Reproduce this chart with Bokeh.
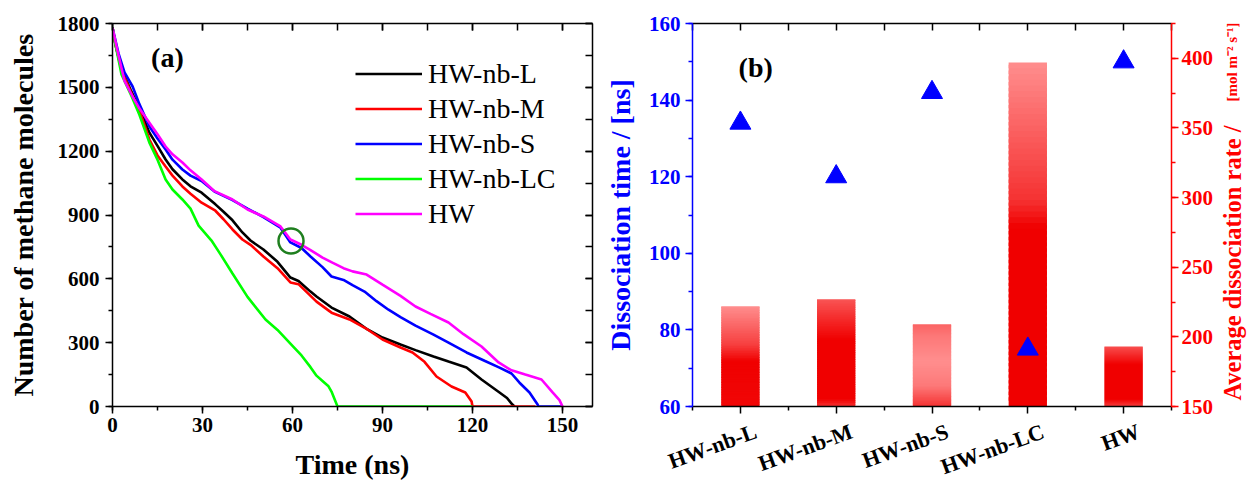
import math
from bokeh.plotting import figure
from bokeh.models import (Range1d, LinearAxis, SingleIntervalTicker, FixedTicker,
                          Legend, LegendItem, Label, CustomJSTickFormatter)
from bokeh.layouts import row
from bokeh.embed import file_html
from bokeh.resources import INLINE

# ---------------- data ----------------
series_names = ["HW-nb-L", "HW-nb-M", "HW-nb-S", "HW-nb-LC", "HW"]
series_colors = ["#000000", "#ff0000", "#0000ff", "#00ff00", "#ff00ff"]

t_L = [0, 1, 3, 6, 9, 12.3, 15, 17.7, 20, 23.3, 26, 29.7, 34.3, 37, 40, 43.3, 46, 50.3, 55, 59.3,
       62, 66, 68, 73, 79, 85, 90, 96, 101, 107, 112, 118, 123, 129, 131.5, 133.3, 134]
n_L = [1780, 1700, 1585, 1490, 1400, 1287, 1225, 1161, 1115, 1067, 1035, 1005, 950, 915, 875, 818,
       780, 738, 680, 606, 590, 540, 517, 465, 423, 362, 324, 291, 265, 235, 211, 183, 127, 66, 40, 9, 0]

t_M = [0, 1, 3, 6, 9, 12.3, 15, 17.7, 20, 23.3, 26, 29.7, 34.3, 37, 40, 43.3, 46, 50.3, 55, 59.3,
       62, 68, 73, 79, 85, 90, 96, 100, 104, 108, 113, 117.6, 119.7, 120, 141]
n_M = [1780, 1700, 1580, 1480, 1390, 1255, 1180, 1128, 1085, 1034, 1000, 958, 920, 880, 832, 785,
       760, 705, 650, 583, 575, 493, 441, 409, 362, 315, 277, 254, 210, 141, 94, 66, 23, 0, 0]

t_S = [0, 2, 4, 6.7, 9, 12.3, 15, 17.7, 20, 23.3, 26, 29.7, 34, 40, 45, 50.3, 56, 59.3, 63, 66,
       70, 73, 77, 80, 84, 88, 92, 96, 101, 107, 112, 118, 124, 129, 133, 135.6, 139, 141.7, 142, 150]
n_S = [1780, 1660, 1570, 1504, 1420, 1316, 1260, 1208, 1160, 1114, 1085, 1060, 1010, 970, 930, 890,
       840, 771, 745, 705, 655, 611, 595, 570, 540, 495, 455, 420, 380, 338, 300, 254, 215, 183, 155,
       113, 66, 9, 0, 0]

t_LC = [0, 1, 3, 6.4, 9, 12.3, 15, 17.7, 20, 23.3, 26, 28.7, 33, 36, 40, 45, 51, 55, 60, 63, 66,
        68, 70, 72, 73, 74, 75, 120]
n_LC = [1780, 1700, 1560, 1457, 1370, 1240, 1160, 1067, 1020, 973, 930, 850, 780, 715, 625, 515,
        409, 360, 285, 240, 185, 145, 120, 95, 70, 35, 0, 0]

t_HW = [0, 2, 4, 6.7, 9, 12.3, 15, 17.7, 20, 23.3, 26, 29.7, 34, 40, 45, 50.3, 56, 59.3, 63, 66,
        70, 73.3, 77, 80, 84.7, 90, 96, 101, 106, 112, 117, 123, 128.7, 133, 137.6, 143, 146.7, 149, 150]
n_HW = [1780, 1650, 1530, 1457, 1400, 1334, 1280, 1222, 1185, 1147, 1110, 1067, 1012, 973, 926, 893,
        846, 785, 760, 735, 700, 676, 650, 635, 620, 573, 520, 470, 435, 395, 340, 282, 207, 170,
        150, 127, 66, 30, 0]

series_t = [t_L, t_M, t_S, t_LC, t_HW]
series_n = [n_L, n_M, n_S, n_LC, n_HW]

categories = ["HW-nb-L", "HW-nb-M", "HW-nb-S", "HW-nb-LC", "HW"]
dissociation_time = [134, 120, 142, 75, 150]          # ns (triangles, left axis)
dissociation_rate = [222, 227, 209, 397, 193]         # mol m-2 s-1 (bars, right axis)

# ---------------- styles ----------------
FONT = "Liberation Serif"
TICK_FS = "21px"
TITLE_FS = "28px"

def style_axis(ax, color="#000000"):
    ax.axis_line_color = color
    ax.axis_line_width = 1.5
    ax.major_tick_line_color = color
    ax.minor_tick_line_color = color
    ax.major_tick_line_width = 1.5
    ax.minor_tick_line_width = 1.5
    ax.major_tick_in = 0
    ax.major_tick_out = 7
    ax.minor_tick_in = 0
    ax.minor_tick_out = 4
    ax.major_label_text_color = color
    ax.major_label_text_font = FONT
    ax.major_label_text_font_size = TICK_FS
    ax.major_label_text_font_style = "bold"
    ax.axis_label_text_font = FONT
    ax.axis_label_text_font_size = TITLE_FS
    ax.axis_label_text_font_style = "bold"
    ax.axis_label_text_color = color

def mirror_axis(ax, color="#000000"):
    style_axis(ax, color)
    ax.major_tick_in = 7
    ax.major_tick_out = 0
    ax.minor_tick_in = 7
    ax.minor_tick_out = 0
    ax.major_label_standoff = 0
    ax.formatter = CustomJSTickFormatter(code="return ''")

def bare(p):
    p.outline_line_color = None
    p.xgrid.visible = False
    p.ygrid.visible = False
    p.background_fill_color = "white"
    p.border_fill_color = "white"

# ---------------- panel (a) ----------------
pa = figure(frame_width=480, frame_height=383, min_border_left=112, min_border_right=6,
            min_border_top=23, min_border_bottom=62,
            x_range=Range1d(0, 160), y_range=Range1d(0, 1800),
            output_backend="svg", toolbar_location=None, align="start")
bare(pa)

pa.xaxis.ticker = SingleIntervalTicker(interval=30, num_minor_ticks=2)
pa.yaxis.ticker = SingleIntervalTicker(interval=300, num_minor_ticks=2)
style_axis(pa.xaxis[0])
style_axis(pa.yaxis[0])
pa.xaxis.axis_label = "Time (ns)"
pa.yaxis.axis_label = "Number of methane molecules"
pa.xaxis.major_label_standoff = 4
pa.xaxis.axis_label_standoff = 14
pa.yaxis.major_label_standoff = 6
pa.yaxis.axis_label_standoff = 16

top_a = LinearAxis(ticker=SingleIntervalTicker(interval=30, num_minor_ticks=2))
mirror_axis(top_a)
pa.add_layout(top_a, "above")
right_a = LinearAxis(ticker=SingleIntervalTicker(interval=300, num_minor_ticks=2))
mirror_axis(right_a)
pa.add_layout(right_a, "right")

renderers = []
for name, col, ts, ns in zip(series_names, series_colors, series_t, series_n):
    r = pa.line(ts, ns, line_color=col, line_width=2.6)
    renderers.append(r)

pa.scatter([59.5], [778], marker="circle", size=25, fill_color=None,
           line_color="#1f7f1f", line_width=2.5)

legend = Legend(items=[LegendItem(label=n, renderers=[r]) for n, r in zip(series_names, renderers)],
                location=(243, 175), glyph_width=67, glyph_height=35, label_height=35,
                label_standoff=6, spacing=0, padding=0, margin=0,
                border_line_alpha=0, background_fill_alpha=0,
                label_text_font=FONT, label_text_font_size="28px", label_text_color="#000000")
pa.add_layout(legend)

pa.add_layout(Label(x=18.3, y=1640, text="(a)", text_font=FONT, text_font_size="28px",
                    text_font_style="bold", text_align="center", text_baseline="middle",
                    text_color="#000000"))

# ---------------- panel (b) ----------------
pb = figure(frame_width=479, frame_height=383, min_border_left=94, min_border_right=42,
            min_border_top=23, min_border_bottom=62,
            x_range=Range1d(0, len(categories)), y_range=Range1d(60, 160),
            output_backend="svg", toolbar_location=None, align="start")
pb.extra_y_ranges = {"rate": Range1d(150, 425)}
bare(pb)

xpos = [i + 0.5 for i in range(len(categories))]
minor_x = list(range(len(categories) + 1))

# tick marks of the category axis
pb.xaxis.ticker = FixedTicker(ticks=xpos, minor_ticks=minor_x)
style_axis(pb.xaxis[0])
pb.xaxis.formatter = CustomJSTickFormatter(code="return ''")
pb.xaxis.major_label_standoff = 0

# category names (slanted), on a tick-less axis just below
label_pos = [round(x + 0.16, 2) for x in xpos]
cat_axis = LinearAxis(ticker=FixedTicker(ticks=label_pos, minor_ticks=[]))
style_axis(cat_axis)
cat_axis.axis_line_color = None
cat_axis.major_tick_line_color = None
cat_axis.minor_tick_line_color = None
cat_axis.major_tick_out = 0
cat_axis.minor_tick_out = 0
cat_axis.major_label_overrides = {x: c for x, c in zip(label_pos, categories)}
cat_axis.major_label_text_font_size = "22px"
cat_axis.major_label_orientation = math.radians(20)
cat_axis.major_label_standoff = 17
pb.add_layout(cat_axis, "below")

pb.yaxis.ticker = SingleIntervalTicker(interval=20, num_minor_ticks=2)
style_axis(pb.yaxis[0], "#0000ff")
pb.yaxis.axis_label = "Dissociation time / [ns]"
pb.yaxis.major_label_standoff = 5
pb.yaxis.axis_label_standoff = 10

right_b = LinearAxis(y_range_name="rate", ticker=SingleIntervalTicker(interval=50, num_minor_ticks=2))
style_axis(right_b, "#ff0000")
right_b.major_label_standoff = 3
pb.add_layout(right_b, "right")

top_b = LinearAxis(ticker=FixedTicker(ticks=xpos, minor_ticks=minor_x))
mirror_axis(top_b)
pb.add_layout(top_b, "above")

# gradient bars (per-bar vertical colour profile: 0 = deep red, 1 = light red)
RED = (240, 0, 0)
LIGHT = (255, 142, 142)
profiles = [
    [(0.0, 0.05), (0.45, 0.0), (0.62, 0.45), (1.0, 1.0)],
    [(0.0, 0.35), (0.07, 0.0), (0.62, 0.0), (0.85, 0.35), (1.0, 0.6)],
    [(0.0, 0.35), (0.25, 0.85), (0.55, 1.0), (0.85, 0.85), (1.0, 0.7)],
    [(0.0, 0.0), (0.52, 0.0), (0.6, 0.35), (1.0, 1.0)],
    [(0.0, 0.45), (0.12, 0.0), (0.7, 0.0), (1.0, 0.55)],
]

def profile_mix(prof, f):
    for (f0, m0), (f1, m1) in zip(prof[:-1], prof[1:]):
        if f <= f1:
            return m0 + (m1 - m0) * (f - f0) / (f1 - f0)
    return prof[-1][1]

def mix_color(m):
    r, g, b = (round(a + (c - a) * m) for a, c in zip(RED, LIGHT))
    return "#%02x%02x%02x" % (r, g, b)

NSLICE = 60
BASE = 150
HALF_W = 0.2
for x, val, prof in zip(xpos, dissociation_rate, profiles):
    step = (val - BASE) / NSLICE
    bottoms, tops, cols = [], [], []
    for k in range(NSLICE):
        b0 = BASE + step * k
        b1 = BASE + step * (k + 1)
        if k < NSLICE - 1:
            b1 += step * 0.6   # overlap to hide seams
        bottoms.append(b0)
        tops.append(b1)
        cols.append(mix_color(profile_mix(prof, (k + 0.5) / NSLICE)))
    pb.quad(left=x - HALF_W, right=x + HALF_W, bottom=bottoms, top=tops,
            fill_color=cols, line_color=None, y_range_name="rate")

pb.scatter(xpos, dissociation_time, marker="triangle", size=21,
           fill_color="#0000ff", line_color="#0000ff")

pb.add_layout(Label(x=0.66, y=148.5, text="(b)", text_font=FONT, text_font_size="28px",
                    text_font_style="bold", text_align="center", text_baseline="middle",
                    text_color="#000000"))

# ---------------- right-hand title strip (y measured in pixels from the top) ----------------
STRIP_H = 478
pc = figure(frame_width=31, frame_height=STRIP_H, min_border_left=0, min_border_right=0,
            min_border_top=0, min_border_bottom=0,
            x_range=Range1d(0, 1), y_range=Range1d(STRIP_H, 0),
            x_axis_location=None, y_axis_location=None,
            output_backend="svg", toolbar_location=None, align="start")
bare(pc)
pc.add_layout(Label(x=0.5, y=377, text="Average dissociation rate /",
                    angle=math.pi / 2, text_align="left", text_baseline="middle",
                    text_font=FONT, text_font_size="24.5px", text_font_style="bold",
                    text_color="#ff0000"))
pc.add_layout(Label(x=0.5, y=78, text="[mol m⁻² s⁻¹]",
                    angle=math.pi / 2, text_align="left", text_baseline="middle",
                    text_font=FONT, text_font_size="15px", text_font_style="bold",
                    text_color="#ff0000"))

layout = row(pa, pb, pc)
open("out.html", "w").write(file_html(layout, INLINE))
